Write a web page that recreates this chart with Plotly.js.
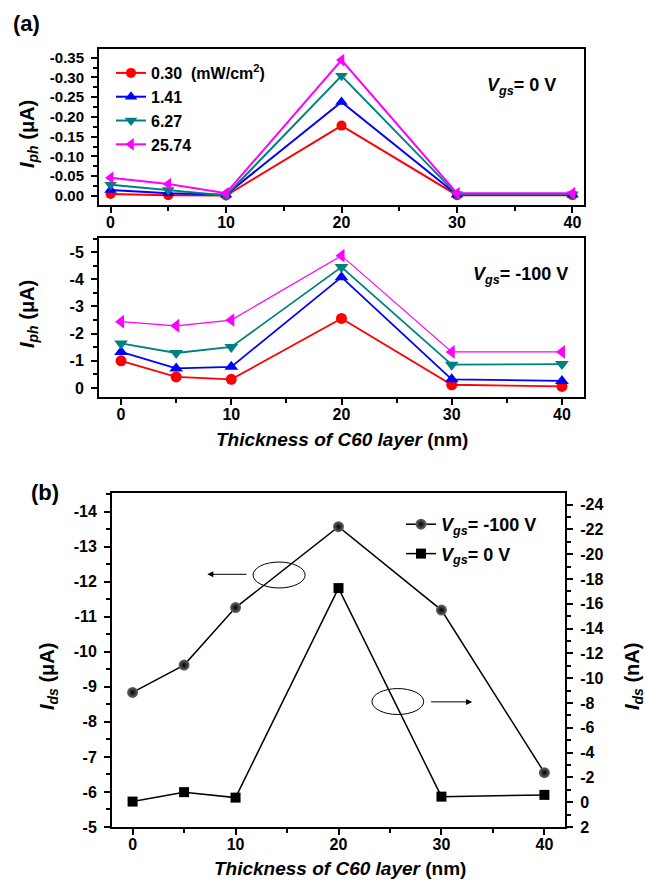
<!DOCTYPE html>
<html><head><meta charset="utf-8">
<script src="https://cdn.plot.ly/plotly-3.0.1.min.js"></script>
<style>html,body{margin:0;padding:0;background:#fff}#chart{width:646px;height:887px}</style>
</head><body><div id="chart"></div><script>
// ---------- data ----------
const thickness = [0, 5, 10, 20, 30, 40];
const intensityLabels = ['0.30\u00a0\u00a0(mW/cm<sup>2</sup>)', '1.41', '6.27', '25.74'];
// panel (a) top: Vgs = 0 V, Iph (uA)
const iphV0_030  = [-0.005, -0.002, -0.001, -0.178, -0.002, -0.002];
const iphV0_141  = [-0.015, -0.007, -0.003, -0.238, -0.003, -0.003];
const iphV0_627  = [-0.028, -0.015, -0.001, -0.304, -0.004, -0.004];
const iphV0_2574 = [-0.046, -0.030, -0.007, -0.344, -0.007, -0.007];
// panel (a) bottom: Vgs = -100 V, Iph (uA)
const iphV100_030  = [-1.00, -0.41, -0.32, -2.56, -0.12, -0.06];
const iphV100_141  = [-1.33, -0.72, -0.78, -4.08, -0.32, -0.26];
const iphV100_627  = [-1.64, -1.29, -1.51, -4.45, -0.86, -0.88];
const iphV100_2574 = [-2.44, -2.29, -2.50, -4.87, -1.33, -1.33];
// panel (b)
const idsV100_uA = [-8.84, -9.62, -11.26, -13.57, -11.19, -6.55];
const idsV0_nA   = [-0.05, -0.81, -0.37, -17.27, -0.45, -0.59];
const bLegend = ['<i>V</i><sub><i>gs</i></sub>= -100 V', '<i>V</i><sub><i>gs</i></sub>= 0 V'];
// tick labels
const xTickVals = [0, 10, 20, 30, 40];
const xTickText = ['0', '10', '20', '30', '40'];
const topYVals = [0, -0.05, -0.10, -0.15, -0.20, -0.25, -0.30, -0.35];
const topYText = ['0.00', '-0.05', '-0.10', '-0.15', '-0.20', '-0.25', '-0.30', '-0.35'];
const midYVals = [0, -1, -2, -3, -4, -5];
const midYText = ['0', '-1', '-2', '-3', '-4', '-5'];
const bLeftVals = [-5, -6, -7, -8, -9, -10, -11, -12, -13, -14];
const bLeftText = ['-5', '-6', '-7', '-8', '-9', '-10', '-11', '-12', '-13', '-14'];
const bRightVals = [2, 0, -2, -4, -6, -8, -10, -12, -14, -16, -18, -20, -22, -24];
const bRightText = ['2', '0', '-2', '-4', '-6', '-8', '-10', '-12', '-14', '-16', '-18', '-20', '-22', '-24'];

// ---------- styling ----------
const W = 646, H = 887;
const px = v => v / W, py = v => 1 - v / H;
const FONT = 'Liberation Sans, Arial, sans-serif';
const colors = ['#ff0000', '#0000ff', '#008080', '#ff00ff'];
const symbols = ['circle', 'triangle-up', 'triangle-down', 'triangle-left'];
const msizes = [10, 11, 11, 11];

const topSeries = [iphV0_030, iphV0_141, iphV0_627, iphV0_2574];
const midSeries = [iphV100_030, iphV100_141, iphV100_627, iphV100_2574];
const traces = [];
topSeries.forEach((ys, i) => traces.push({
  x: thickness, y: ys, xaxis: 'x', yaxis: 'y', type: 'scatter', mode: 'lines+markers',
  name: intensityLabels[i], line: {color: colors[i], width: 2},
  marker: {symbol: symbols[i], size: msizes[i], color: colors[i]}, showlegend: true, legend: 'legend'
}));
midSeries.forEach((ys, i) => traces.push({
  x: thickness, y: ys, xaxis: 'x2', yaxis: 'y2', type: 'scatter', mode: 'lines+markers',
  name: intensityLabels[i], line: {color: colors[i], width: i === 3 ? 1.2 : 1.8},
  marker: {symbol: symbols[i], size: msizes[i] + 1, color: colors[i]}, showlegend: false
}));
traces.push({
  x: thickness, y: idsV100_uA, xaxis: 'x3', yaxis: 'y3', type: 'scatter', mode: 'lines+markers',
  name: bLegend[0], line: {color: '#000', width: 1.5},
  marker: {symbol: 'circle', size: 11, color: '#6a6a6a', gradient: {type: 'radial', color: '#000'}},
  legend: 'legend2', legendgroup: 'a'
});
traces.push({
  x: thickness, y: idsV0_nA, xaxis: 'x3', yaxis: 'y4', type: 'scatter', mode: 'lines+markers',
  name: bLegend[1], line: {color: '#000', width: 1.5},
  marker: {symbol: 'square', size: 10, color: '#000'},
  legend: 'legend2', legendgroup: 'b'
});

const tickFont = s => ({family: FONT, size: s, color: '#000', weight: 'bold'});
const baseX = {
  showline: true, linewidth: 2, linecolor: '#000', mirror: true, zeroline: false, showgrid: false,
  ticks: 'outside', ticklen: 6, tickwidth: 2, tickcolor: '#000', ticklabelstandoff: -4,
  tickmode: 'array', tickvals: xTickVals, ticktext: xTickText, tickfont: tickFont(16),
  minor: {ticks: 'outside', ticklen: 4, tickwidth: 2, tickcolor: '#000', tickmode: 'linear', tick0: 5, dtick: 10},
  automargin: false, fixedrange: true
};
const baseY = {
  showline: true, linewidth: 2, linecolor: '#000', mirror: true, zeroline: false, showgrid: false,
  ticks: 'outside', ticklen: 6, tickwidth: 2, tickcolor: '#000', tickmode: 'array',
  tickfont: tickFont(15), automargin: false, fixedrange: true, ticklabelstandoff: 4
};
const ann = (text, x, y, size, extra) => Object.assign({
  text: text, xref: 'paper', yref: 'paper', x: px(x), y: py(y), xanchor: 'center', yanchor: 'middle',
  showarrow: false, font: {family: FONT, size: size, color: '#000'}
}, extra || {});

const layout = {
  width: W, height: H, margin: {l: 0, r: 0, t: 0, b: 0},
  paper_bgcolor: '#fff', plot_bgcolor: '#fff',
  font: {family: FONT, color: '#000'},
  xaxis: Object.assign({}, baseX, {domain: [px(99), px(584)], anchor: 'y', range: [-1, 41]}),
  yaxis: Object.assign({}, baseY, {domain: [py(205), py(49)], anchor: 'x', range: [0.023, -0.372],
    tickvals: topYVals, ticktext: topYText,
    minor: {ticks: 'outside', ticklen: 4, tickwidth: 2, tickcolor: '#000', tickmode: 'linear', tick0: 0, dtick: 0.025}}),
  xaxis2: Object.assign({}, baseX, {domain: [px(99), px(584)], anchor: 'y2', range: [-2, 42]}),
  yaxis2: Object.assign({}, baseY, {domain: [py(397), py(238)], anchor: 'x2', range: [0.33, -5.52],
    tickvals: midYVals, ticktext: midYText, tickfont: tickFont(16),
    minor: {ticks: 'outside', ticklen: 4, tickwidth: 2, tickcolor: '#000', tickmode: 'linear', tick0: 0, dtick: 0.5}}),
  xaxis3: Object.assign({}, baseX, {domain: [px(112), px(565)], anchor: 'y3', range: [-2, 42]}),
  xaxis4: {domain: [px(112), px(565)], anchor: 'y3', overlaying: 'x3', side: 'top', range: [-2, 42],
    showline: false, showgrid: false, zeroline: false, showticklabels: false,
    ticks: 'inside', ticklen: 6, tickwidth: 2, tickcolor: '#000', tickmode: 'linear', tick0: 0, dtick: 5, fixedrange: true},
  yaxis3: Object.assign({}, baseY, {domain: [py(827), py(493)], anchor: 'x3', range: [-5, -14.53],
    tickvals: bLeftVals, ticktext: bLeftText, tickfont: tickFont(16), mirror: false,
    minor: {ticks: 'outside', ticklen: 4, tickwidth: 2, tickcolor: '#000', tickmode: 'linear', tick0: 0, dtick: 0.5}}),
  yaxis4: Object.assign({}, baseY, {domain: [py(827), py(493)], anchor: 'x3', overlaying: 'y3', side: 'right',
    range: [2, -24.94], tickvals: bRightVals, ticktext: bRightText, tickfont: tickFont(16), mirror: false,
    minor: {ticks: 'outside', ticklen: 4, tickwidth: 2, tickcolor: '#000', tickmode: 'linear', tick0: 1, dtick: 2}}),
  legend: {x: px(111), y: py(56), xanchor: 'left', yanchor: 'top', bgcolor: 'rgba(0,0,0,0)',
    font: {family: FONT, size: 16, color: '#000', weight: 'bold'}, tracegroupgap: 0, itemwidth: 30},
  legend2: {x: px(401), y: py(506), xanchor: 'left', yanchor: 'top', bgcolor: 'rgba(0,0,0,0)',
    font: {family: FONT, size: 18, color: '#000', weight: 'bold'}, tracegroupgap: 3, itemwidth: 30},
  shapes: [
    {type: 'circle', xref: 'x3', yref: 'y3', x0: 11.7, x1: 16.76, y0: -12.56, y1: -11.82, line: {color: '#000', width: 1}},
    {type: 'circle', xref: 'x3', yref: 'y3', x0: 23.25, x1: 28.27, y0: -8.95, y1: -8.21, line: {color: '#000', width: 1}}
  ],
  annotations: [
    ann('<b>(a)</b>', 27, 23, 22),
    ann('<b>(b)</b>', 45, 492, 22),
    ann('<b><i>V</i><sub><i>gs</i></sub>= 0 V</b>', 485, 86, 18, {xanchor: 'left'}),
    ann('<b><i>V</i><sub><i>gs</i></sub>= -100 V</b>', 471, 275, 18, {xanchor: 'left'}),
    ann('<b><i>I</i><sub><i>ph</i></sub> (μA)</b>', 28, 134, 20, {textangle: -90}),
    ann('<b><i>I</i><sub><i>ph</i></sub> (μA)</b>', 28, 314, 20, {textangle: -90}),
    ann('<b><i>I</i><sub><i>ds</i></sub> (μA)</b>', 48, 677, 20, {textangle: -90}),
    ann('<b><i>I</i><sub><i>ds</i></sub> (nA)</b>', 633, 677, 20, {textangle: -90}),
    ann('<b><i>Thickness of C60 layer</i> (nm)</b>', 342, 439, 19),
    ann('<b><i>Thickness of C60 layer</i> (nm)</b>', 340, 868, 19),
    {text: '', xref: 'x3', yref: 'y3', axref: 'x3', ayref: 'y3', x: 7.26, y: -12.21, ax: 11.2, ay: -12.21, showarrow: true, arrowhead: 2, arrowsize: 1.2, arrowwidth: 1, arrowcolor: '#000'},
    {text: '', xref: 'x3', yref: 'y3', axref: 'x3', ayref: 'y3', x: 32.98, y: -8.57, ax: 28.85, ay: -8.57, showarrow: true, arrowhead: 2, arrowsize: 1.2, arrowwidth: 1, arrowcolor: '#000'}
  ]
};

Plotly.newPlot('chart', traces, layout, {staticPlot: true, displayModeBar: false});
</script></body></html>
